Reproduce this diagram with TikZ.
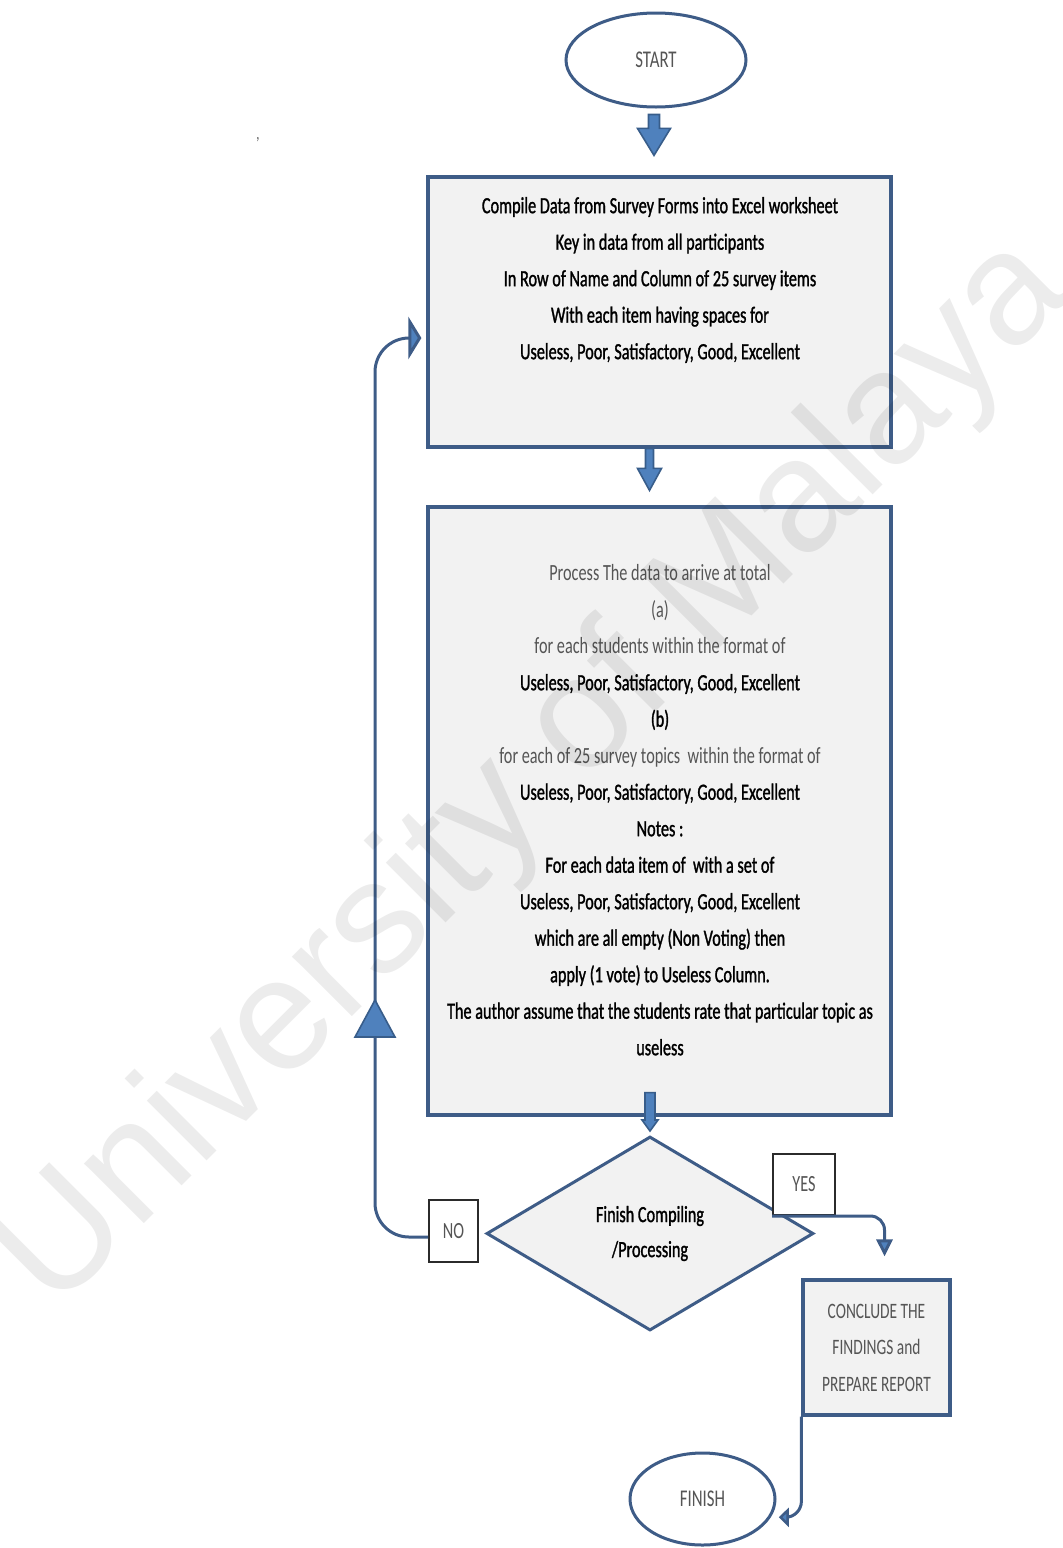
\documentclass[tikz,border=0pt]{standalone}
\usepackage{fontspec}
\setmainfont{Carlito}[FakeStretch=0.7, FakeBold=1.2]
\newfontfamily\lightfont{Carlito}[FakeStretch=0.7]
\newfontfamily\wmfont{Liberation Sans}
\usetikzlibrary{shapes.geometric,arrows.meta,calc}

\definecolor{edgeblue}{HTML}{3E5C87}
\definecolor{blockfill}{HTML}{4F81BD}
\definecolor{blockedge}{HTML}{385D8A}
\definecolor{panel}{HTML}{F2F2F2}
\definecolor{softtext}{HTML}{555555}
\definecolor{labeledge}{HTML}{2B2B2B}

\tikzset{
  terminal/.style={ellipse, draw=edgeblue, line width=1.5pt, fill=white, inner sep=0pt,
    text=softtext, font=\lightfont\fontsize{12}{14}\selectfont},
  panelbox/.style={rectangle, draw=edgeblue, line width=1.6pt, fill=panel, inner sep=0pt},
  bodytext/.style={align=center, inner sep=0pt, font=\fontsize{11.6}{18.25}\selectfont},
  decision/.style={diamond, draw=edgeblue, line width=1.5pt, fill=panel, inner sep=0pt,
    align=center, font=\fontsize{11.6}{17.5}\selectfont},
  tag/.style={rectangle, draw=labeledge, line width=1pt, fill=white, inner sep=0pt,
    text=softtext, font=\lightfont\fontsize{11.6}{14}\selectfont},
  conn/.style={draw=edgeblue, line width=1.5pt},
  blockstyle/.style={fill=blockfill, draw=blockedge, line width=0.8pt, line join=miter},
}

% lighter lines inside the process box
\newcommand\soft[1]{{\lightfont\color{softtext}#1}}

% block arrow: from, to, shaft half width, head half width, head length
\newcommand\blockarr[5]{%
  \path[blockstyle] let \p1=(#1), \p2=(#2) in
    (\x1-#3,\y1) -- (\x1+#3,\y1) -- (\x1+#3,\y2+#5) -- (\x1+#4,\y2+#5) -- (\x2,\y2)
    -- (\x1-#4,\y2+#5) -- (\x1-#3,\y2+#5) -- cycle;}

\begin{document}
\begin{tikzpicture}[x=0.5pt,y=-0.5pt]
\useasboundingbox (0,0) rectangle (1063,1548);

% nodes
\node[terminal, minimum width=90pt, minimum height=47pt] (start) at (656,60) {START};

\node[panelbox, minimum width=231.5pt, minimum height=135pt] (b1) at (659.5,312) {};
\node[bodytext] (b1t) at (660,280) {Compile Data from Survey Forms into Excel worksheet\\
  Key in data from all participants\\
  In Row of Name and Column of 25 survey items\\
  With each item having spaces for\\
  Useless, Poor, Satisfactory, Good, Excellent};

\node[panelbox, minimum width=231.5pt, minimum height=304pt] (b2) at (659.5,811) {};
\node[bodytext] (b2t) at (660,810) {\soft{Process The data to arrive at total}\\
  \soft{(a)}\\
  \soft{for each students within the format of}\\
  Useless, Poor, Satisfactory, Good, Excellent\\
  (b)\\
  \soft{for each of 25 survey topics\ \ within the format of}\\
  Useless, Poor, Satisfactory, Good, Excellent\\
  Notes :\\
  For each data item of\ \ with a set of\\
  Useless, Poor, Satisfactory, Good, Excellent\\
  which are all empty (Non Voting) then\\
  apply (1 vote) to Useless Column.\\
  The author assume that the students rate that particular topic as\\
  useless};

\node[decision, minimum width=163.5pt, minimum height=97pt] (d) at (650,1233.5)
  {Finish Compiling\\/Processing};

\node[tag, minimum width=24.5pt, minimum height=31pt] (no) at (453.5,1231) {NO};
\node[tag, minimum width=31pt, minimum height=30.5pt] (yes) at (804,1184.5) {YES};

\node[panelbox, minimum width=73.5pt, minimum height=67.5pt, align=center, text=softtext,
  font=\lightfont\fontsize{11}{18.25}\selectfont] (c) at (876.5,1347.5)
  {CONCLUDE THE\\FINDINGS and\\PREPARE REPORT};

\node[terminal, minimum width=72.5pt, minimum height=46pt] (f) at (702.5,1499) {FINISH};

\node[text=softtext, inner sep=0pt, font=\lightfont\fontsize{9}{9}\selectfont] (tick) at (258,140) {,};

% block arrows between the main steps
\coordinate (a1s) at ([xshift=-1pt,yshift=-3pt]start.south);
\coordinate (a1e) at ([xshift=-2.75pt,yshift=10pt]b1.north);
\blockarr{a1s}{a1e}{2.75pt}{8.25pt}{13.5pt}

\coordinate (a2s) at ([xshift=-5pt]b1.south);
\coordinate (a2e) at ([xshift=-5pt,yshift=7.5pt]b2.north);
\blockarr{a2s}{a2e}{2pt}{6pt}{11pt}

\coordinate (a3s) at ([xshift=-4.75pt,yshift=12pt]b2.south);
\coordinate (a3e) at ([yshift=2pt]d.north);
\blockarr{a3s}{a3e}{2.5pt}{4pt}{5.5pt}

% NO: loop back to the first step
\draw[conn, rounded corners=17pt, shorten >=2.5pt,
  -{Triangle[length=6.5pt,width=21pt,fill=blockfill]}]
  ([yshift=-3pt]no.west) -- (375,1237) -- (375,338) -- ([yshift=-13pt]b1.west);
\filldraw[blockstyle] (355,1037) -- (375,1000) -- (395,1037) -- cycle;

% YES: on to the report
\coordinate (yesend) at ([xshift=4pt,yshift=11pt]c.north);
\draw[conn, rounded corners=7pt, -{Triangle[length=8.5pt,width=8pt,fill=blockfill]}]
  (yes.south west) -- (yes.south west -| yesend) -- (yesend);

% report to finish
\draw[conn, rounded corners=8pt, shorten >=4pt,
  -{Triangle[length=5pt,width=9.5pt,fill=blockfill]}]
  (c.south west) |- (f.-15);

% watermark
\node[rotate=45, text opacity=0.075, font=\wmfont\fontsize{80}{80}\selectfont] (wm) at (535,775)
  {University of Malaya};
\end{tikzpicture}
\end{document}
